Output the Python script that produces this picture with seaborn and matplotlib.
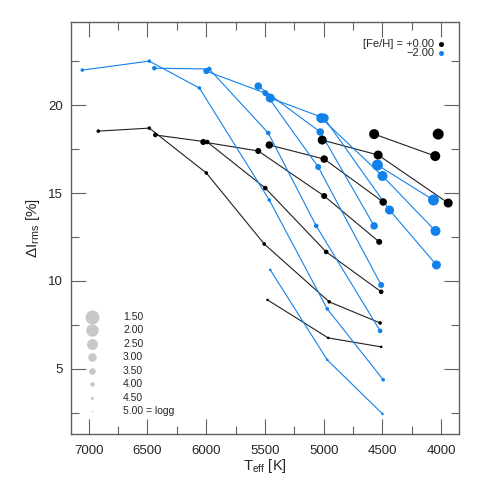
import pandas as pd
import matplotlib
matplotlib.use("Agg")
import matplotlib.pyplot as plt
from matplotlib.ticker import MultipleLocator
import seaborn as sns

# [Fe/H] = +0.00 (black), one track per logg, hot -> cool
logg_p00 = [1.5,
            2.0, 2.0,
            2.5, 2.5, 2.5,
            3.0, 3.0, 3.0,
            3.5, 3.5, 3.5, 3.5,
            4.0, 4.0, 4.0, 4.0, 4.0,
            4.5, 4.5, 4.5, 4.5, 4.5, 4.5,
            5.0, 5.0, 5.0]
teff_p00 = [4026,
            4571, 4051,
            5013, 4537, 3941,
            5463, 4996, 4494,
            6025, 5557, 4996, 4528,
            6433, 5991, 5497, 4979, 4511,
            6918, 6484, 5999, 5506, 4953, 4520,
            5478, 4962, 4511]
irms_p00 = [18.35,
            18.35, 17.10,
            18.01, 17.16, 14.43,
            17.73, 16.93, 14.49,
            17.90, 17.39, 14.83, 12.22,
            18.30, 17.90, 15.28, 11.65, 9.38,
            18.52, 18.69, 16.14, 12.10, 8.81, 7.61,
            8.92, 6.76, 6.25]

# [Fe/H] = -2.00 (blue)
logg_m20 = [1.5, 1.5,
            2.0, 2.0, 2.0,
            2.5, 2.5, 2.5, 2.5,
            3.0, 3.0, 3.0,
            3.5, 3.5, 3.5, 3.5,
            4.0, 4.0, 4.0, 4.0, 4.0,
            4.5, 4.5, 4.5, 4.5, 4.5, 4.5,
            5.0, 5.0, 5.0]
teff_m20 = [4543, 4066,
            5021, 4500, 4049,
            5455, 4996, 4440, 4041,
            5557, 5030, 4571,
            5999, 5497, 5047, 4511,
            6441, 5974, 5472, 5064, 4520,
            7054, 6484, 6058, 5463, 4970, 4494,
            5455, 4970, 4500]
irms_m20 = [16.59, 14.60,
            19.26, 15.97, 12.84,
            20.40, 19.26, 14.03, 10.91,
            21.08, 18.47, 13.13,
            21.93, 20.68, 16.48, 9.77,
            22.10, 22.05, 18.41, 13.13, 7.16,
            21.99, 22.50, 20.97, 14.60, 8.41, 4.38,
            10.63, 5.51, 2.44]

legend_logg = [1.5, 2.0, 2.5, 3.0, 3.5, 4.0, 4.5, 5.0]

sns.set_style("ticks")
plt.rcParams["font.family"] = ["Liberation Sans", "DejaVu Sans"]
plt.rcParams["mathtext.fontset"] = "custom"
plt.rcParams["mathtext.rm"] = "Liberation Sans"

BLUE = "#1282ea"

# marker diameter (px) per logg -> area in pt^2
diam = {1.5: 11, 2.0: 10, 2.5: 9, 3.0: 7.5, 3.5: 6, 4.0: 4.6, 4.5: 3.6, 5.0: 2.6}
dot_sizes = {g: (d * 0.72) ** 2 for g, d in diam.items()}
leg_diam = {1.5: 14, 2.0: 12.5, 2.5: 11, 3.0: 8.5, 3.5: 6.7, 4.0: 4.5, 4.5: 3.2, 5.0: 1.6}

solar = pd.DataFrame({"logg": logg_p00, "teff": teff_p00, "irms": irms_p00})
poor = pd.DataFrame({"logg": logg_m20, "teff": teff_m20, "irms": irms_m20})

fig, ax = plt.subplots(figsize=(4.8, 4.8), dpi=100)
fig.subplots_adjust(left=0.148, right=0.956, bottom=0.096, top=0.954)

for df, lc, mc in [(solar, "#202020", "black"), (poor, BLUE, BLUE)]:
    sns.lineplot(data=df, x="teff", y="irms", units="logg", estimator=None,
                 sort=False, color=lc, lw=0.8, ax=ax, legend=False)
    sns.scatterplot(data=df, x="teff", y="irms", size="logg", sizes=dot_sizes,
                    color=mc, linewidth=0, legend=False, ax=ax, zorder=3)

ax.set_xlim(7150, 3850)
ax.set_ylim(1.3, 24.72)
ax.xaxis.set_major_locator(MultipleLocator(500))
ax.xaxis.set_minor_locator(MultipleLocator(250))
ax.yaxis.set_major_locator(MultipleLocator(5))
ax.yaxis.set_minor_locator(MultipleLocator(2.5))
ax.tick_params(which="both", direction="in", top=True, right=True,
               color="#606060", labelsize=9.5)
ax.tick_params(which="major", length=11, width=0.8)
ax.tick_params(which="minor", length=5.5, width=0.8)
ax.tick_params(axis="x", pad=8)
ax.tick_params(axis="y", pad=6)
for sp in ax.spines.values():
    sp.set_color("#606060")
    sp.set_linewidth(1.0)

ax.set_xlabel(r"T$_{\rm eff}$ [K]", fontsize=10.5, labelpad=0)
ax.set_ylabel(r"$\Delta$I$_{\rm rms}$ [%]", fontsize=11, labelpad=4)

# metallicity key, top right
ax.text(0.936, 0.947, "[Fe/H] = +0.00", transform=ax.transAxes, ha="right",
        va="center", fontsize=8)
ax.text(0.936, 0.925, "\u22122.00", transform=ax.transAxes, ha="right",
        va="center", fontsize=8)
ax.scatter([0.955], [0.947], s=(5 * 0.72) ** 2, color="black", linewidth=0,
           transform=ax.transAxes)
ax.scatter([0.955], [0.925], s=(5 * 0.72) ** 2, color=BLUE, linewidth=0,
           transform=ax.transAxes)

# logg size key, bottom left
for i, g in enumerate(legend_logg):
    yy = 0.284 - i * 0.0326
    ax.scatter([0.054], [yy], s=(leg_diam[g] * 0.72) ** 2, color="#c8c8c8",
               linewidth=0, transform=ax.transAxes)
    lab = f"{g:.2f}" + (" = logg" if g == 5.0 else "")
    ax.text(0.134, yy, lab, transform=ax.transAxes, ha="left", va="center",
            fontsize=7.5)

fig.savefig("out.png", dpi=100)
